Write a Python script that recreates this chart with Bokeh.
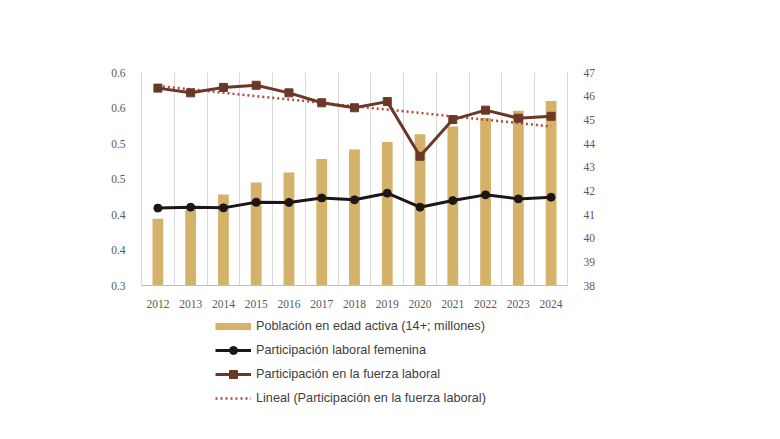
from bokeh.plotting import figure
from bokeh.layouts import column
from bokeh.models import (Range1d, LinearAxis, FixedTicker, Grid, Legend, LegendItem)
from bokeh.embed import file_html
from bokeh.resources import INLINE

# ---- data ----
years = [2012, 2013, 2014, 2015, 2016, 2017, 2018, 2019, 2020, 2021, 2022, 2023, 2024]
poblacion = [0.394, 0.407, 0.428, 0.445, 0.459, 0.478, 0.4915, 0.502, 0.513, 0.524, 0.536, 0.546, 0.560]
part_femenina = [41.27, 41.31, 41.28, 41.52, 41.51, 41.70, 41.62, 41.90, 41.31, 41.59, 41.83, 41.66, 41.73]
part_fuerza = [46.34, 46.14, 46.37, 46.46, 46.14, 45.72, 45.51, 45.77, 43.46, 45.01, 45.41, 45.07, 45.15]
trend_years = [2012, 2024]
trend_ends = [46.43, 44.72]

left_ticks = [0.30, 0.35, 0.40, 0.45, 0.50, 0.55, 0.60]
left_tick_labels = ["0.3", "0.4", "0.4", "0.5", "0.5", "0.6", "0.6"]
right_ticks = [38, 39, 40, 41, 42, 43, 44, 45, 46, 47]

labels = [
    "Población en edad activa (14+; millones)",
    "Participación laboral femenina",
    "Participación en la fuerza laboral",
    "Lineal (Participación en la fuerza laboral)",
]

# ---- styles ----
BAR = "#D4B26A"
BLACK = "#1c1616"
BROWN = "#6b3828"
TREND = "#b24a3c"
TICK_TXT = "#595959"
GRID = "#d9d9d9"

p = figure(width=780, height=310, output_backend="svg", toolbar_location=None,
           x_range=Range1d(years[0] - 0.5, years[-1] + 0.5),
           y_range=Range1d(left_ticks[0], left_ticks[-1]),
           min_border_left=141, min_border_right=213, min_border_top=72, min_border_bottom=25,
           background_fill_color="white", border_fill_color="white")
p.outline_line_color = None
p.extra_y_ranges = {"pct": Range1d(right_ticks[0], right_ticks[-1])}

p.xgrid.visible = False
p.ygrid.visible = False

vg = Grid(dimension=0, ticker=FixedTicker(ticks=[y + 0.5 for y in years[:-1]]),
          grid_line_color=GRID, grid_line_width=1)
p.add_layout(vg)

xa = p.xaxis[0]
xa.ticker = FixedTicker(ticks=years)
xa.axis_line_color = "#bfbfbf"
xa.major_tick_line_color = None
xa.minor_tick_line_color = None
xa.major_label_text_font = "Liberation Serif"
xa.major_label_text_font_size = "11.5px"
xa.major_label_text_color = TICK_TXT
xa.major_label_standoff = 8

ya = p.yaxis[0]
ya.ticker = FixedTicker(ticks=left_ticks)
ya.major_label_overrides = {t: s for t, s in zip(left_ticks, left_tick_labels)}
ya.axis_line_color = GRID
ya.major_tick_line_color = None
ya.minor_tick_line_color = None
ya.major_label_text_font = "Liberation Serif"
ya.major_label_text_font_size = "11.5px"
ya.major_label_text_color = TICK_TXT
ya.major_label_standoff = 10

ra = LinearAxis(y_range_name="pct", ticker=FixedTicker(ticks=right_ticks))
ra.axis_line_color = GRID
ra.major_tick_line_color = None
ra.minor_tick_line_color = None
ra.major_label_text_font = "Liberation Serif"
ra.major_label_text_font_size = "11.5px"
ra.major_label_text_color = TICK_TXT
ra.major_label_standoff = 10
p.add_layout(ra, "right")

p.vbar(x=years, top=poblacion, bottom=0, width=0.33, fill_color=BAR, line_color=None)
p.line(x=trend_years, y=trend_ends, y_range_name="pct", line_color=TREND,
       line_width=2.5, line_dash="2 3")
p.line(x=years, y=part_femenina, y_range_name="pct", line_color=BLACK, line_width=3)
p.scatter(x=years, y=part_femenina, y_range_name="pct", marker="circle", size=8,
          fill_color=BLACK, line_color=BLACK)
p.line(x=years, y=part_fuerza, y_range_name="pct", line_color=BROWN, line_width=3)
p.scatter(x=years, y=part_fuerza, y_range_name="pct", marker="square", size=8,
          fill_color=BROWN, line_color=BROWN)

# ---- legend panel (same frame alignment as the chart; its renderers only feed the legend keys,
#      their data lie outside this panel's visible range) ----
q = figure(width=780, height=129, output_backend="svg", toolbar_location=None,
           x_range=Range1d(0, 1), y_range=Range1d(0, 1),
           x_axis_type=None, y_axis_type=None,
           min_border_left=141, min_border_right=213, min_border_top=0, min_border_bottom=0,
           background_fill_color="white", border_fill_color="white")
q.outline_line_color = None
q.grid.visible = False

k_bar = q.line(x=years, y=poblacion, line_color=BAR, line_width=7)
k_fem_l = q.line(x=years, y=part_femenina, line_color=BLACK, line_width=3)
k_fem_p = q.scatter(x=years, y=part_femenina, marker="circle", fill_color=BLACK, line_color=BLACK)
k_fz_l = q.line(x=years, y=part_fuerza, line_color=BROWN, line_width=3)
k_fz_p = q.scatter(x=years, y=part_fuerza, marker="square", fill_color=BROWN, line_color=BROWN)
k_tr = q.line(x=trend_years, y=trend_ends, line_color=TREND, line_width=2.5, line_dash="2 3")

legend = Legend(items=[
    LegendItem(label=labels[0], renderers=[k_bar]),
    LegendItem(label=labels[1], renderers=[k_fem_l, k_fem_p]),
    LegendItem(label=labels[2], renderers=[k_fz_l, k_fz_p]),
    LegendItem(label=labels[3], renderers=[k_tr]),
], location=(74, 31), orientation="vertical",
    background_fill_alpha=0, border_line_color=None, padding=0, margin=0,
    glyph_width=36, glyph_height=20, label_height=20, spacing=4, label_standoff=5,
    label_text_font="Liberation Sans", label_text_font_size="12.7px", label_text_color="#404040")
q.add_layout(legend, "center")

layout = column(p, q, spacing=0)
open("out.html", "w").write(file_html(layout, INLINE))
